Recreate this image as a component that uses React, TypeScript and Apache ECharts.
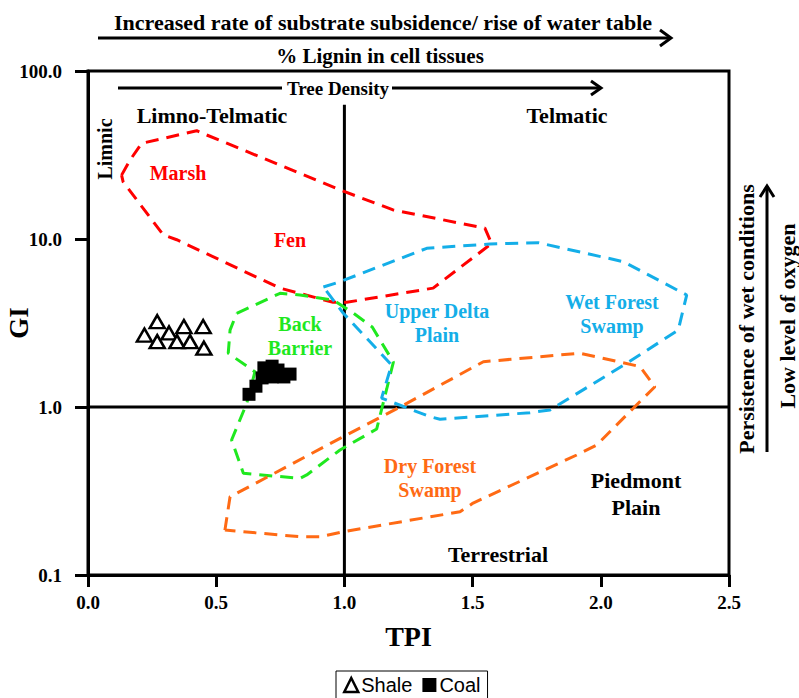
import React, { useEffect, useRef } from "react";
import * as echarts from "echarts";

// Axis ticks
const xTickValues = [0, 0.5, 1.0, 1.5, 2.0, 2.5];
const yTickValues = [0.1, 1, 10, 100];

// Samples
const shaleTPI = [0.22, 0.27, 0.27, 0.316, 0.374, 0.347, 0.398, 0.449, 0.452];
const shaleGI = [2.68, 3.22, 2.45, 2.76, 3.01, 2.45, 2.45, 3.01, 2.24];

const coalTPI = [0.628, 0.655, 0.679, 0.686, 0.718, 0.741, 0.718, 0.764, 0.788];
const coalGI = [1.19, 1.33, 1.49, 1.71, 1.75, 1.66, 1.51, 1.51, 1.57];

// Facies envelopes (closed outlines)
const marshFenTPI = [0.131, 0.164, 0.209, 0.424, 0.463, 0.983, 1.19, 1.548, 1.574, 1.346, 1.009, 0.956, 0.749, 0.346, 0.293, 0.137, 0.131];
const marshFenGI = [24.0, 29.5, 37.1, 44.1, 41.6, 19.6, 14.9, 11.6, 9.4, 5.1, 4.2, 4.2, 5.1, 9.9, 10.6, 21.9, 24.0];

const backBarrierTPI = [0.58, 0.749, 0.827, 0.956, 1.034, 1.108, 1.191, 1.165, 1.126, 0.983, 0.853, 0.827, 0.606, 0.56, 0.619, 0.651, 0.547, 0.554, 0.58];
const backBarrierGI = [3.61, 4.75, 4.64, 4.33, 3.63, 3.0, 1.85, 1.28, 0.74, 0.555, 0.394, 0.376, 0.403, 0.636, 1.05, 1.62, 2.09, 2.87, 3.61];

const wetForestTPI = [0.918, 0.983, 1.321, 1.568, 1.756, 2.088, 2.335, 2.302, 2.101, 1.802, 1.724, 1.373, 1.334, 1.145, 1.184, 0.996, 0.918];
const wetForestGI = [5.18, 5.57, 8.8, 9.34, 9.51, 7.33, 4.64, 2.87, 1.82, 0.96, 0.925, 0.845, 0.875, 1.13, 1.78, 3.61, 5.18];

const dryForestTPI = [0.534, 0.554, 0.702, 0.983, 1.217, 1.542, 1.919, 2.153, 2.211, 2.14, 1.984, 1.906, 1.502, 1.451, 0.995, 0.905, 0.827, 0.534];
const dryForestGI = [0.185, 0.292, 0.385, 0.651, 1.0, 1.86, 2.09, 1.74, 1.32, 1.03, 0.594, 0.518, 0.268, 0.238, 0.181, 0.169, 0.169, 0.185];

// Reference dividers
const dividerVTPI = [1.0, 1.0];
const dividerVGI = [0.1, 63];
const dividerHTPI = [0, 2.5];
const dividerHGI = [1, 1];

const zip = (a: number[], b: number[]) => a.map((v, i) => [v, b[i]]);

const SERIF = "'Liberation Serif', 'Times New Roman', serif";

const RED = "#ff0000";
const GREEN = "#1fe81f";
const BLUE = "#14aee8";
const ORANGE = "#ff6a14";

function txt(text: string, x: number, y: number, size: number, color = "#000", extra: any = {}) {
  return {
    type: "text",
    x,
    y,
    silent: true,
    ...extra,
    style: {
      text,
      fill: color,
      fontFamily: SERIF,
      fontWeight: "bold",
      fontSize: size,
      align: "center",
      verticalAlign: "middle",
      lineHeight: size * 1.2,
      ...(extra.style || {}),
    },
  };
}

function arrowLine(x1: number, y1: number, x2: number, y2: number) {
  return { type: "line", silent: true, shape: { x1, y1, x2, y2 }, style: { stroke: "#000", lineWidth: 3 } };
}
function chevron(points: number[][]) {
  return { type: "polyline", silent: true, shape: { points }, style: { stroke: "#000", lineWidth: 3, fill: null } };
}

function envelope(name: string, xs: number[], ys: number[], color: string) {
  return {
    name,
    type: "line",
    data: zip(xs, ys),
    symbol: "none",
    silent: true,
    z: 2,
    lineStyle: { color, width: 3, type: [13, 8] },
  };
}

export default function App() {
  const ref = useRef<HTMLDivElement>(null);
  useEffect(() => {
    document.body.style.margin = "0";
    const chart = echarts.init(ref.current!, undefined, { renderer: "svg" });
    chart.setOption({
      animation: false,
      backgroundColor: "#fff",
      grid: {
        left: 88,
        right: 70,
        top: 71,
        bottom: 123,
        show: true,
        borderColor: "#000",
        borderWidth: 3,
        containLabel: false,
        outerBoundsMode: "none",
      },
      xAxis: {
        type: "value",
        min: xTickValues[0],
        max: xTickValues[xTickValues.length - 1],
        interval: 0.5,
        name: "TPI",
        nameLocation: "middle",
        nameGap: 47,
        nameTextStyle: { fontFamily: SERIF, fontWeight: "bold", fontSize: 28, color: "#000" },
        axisLine: { onZero: false, lineStyle: { color: "#000", width: 3 } },
        axisTick: { show: true, length: 12, lineStyle: { color: "#000", width: 3 } },
        axisLabel: {
          margin: 18,
          fontFamily: SERIF,
          fontWeight: "bold",
          fontSize: 19,
          color: "#000",
          formatter: (v: number) => Number(v).toFixed(1),
        },
        splitLine: { show: false },
      },
      yAxis: {
        type: "log",
        logBase: 10,
        min: yTickValues[0],
        max: yTickValues[yTickValues.length - 1],
        name: "GI",
        nameLocation: "middle",
        nameGap: 56,
        nameRotate: 90,
        nameMoveOverlap: false,
        nameTextStyle: { fontFamily: SERIF, fontWeight: "bold", fontSize: 27, color: "#000" },
        axisLine: { lineStyle: { color: "#000", width: 3 } },
        axisTick: { show: true, length: 13, lineStyle: { color: "#000", width: 3 } },
        minorTick: { show: false },
        axisLabel: {
          margin: 26,
          fontFamily: SERIF,
          fontWeight: "bold",
          fontSize: 19,
          color: "#000",
          formatter: (v: number) => Number(v).toFixed(1),
        },
        splitLine: { show: false },
      },
      legend: {
        left: 336,
        top: 671,
        orient: "horizontal",
        borderColor: "#000",
        borderWidth: 1,
        padding: [4, 7, 8, 7],
        itemGap: 10,
        itemWidth: 14,
        itemHeight: 14,
        textStyle: { fontFamily: "'Liberation Sans', Arial, sans-serif", fontSize: 20, color: "#000", padding: [0, 0, 0, -2] },
        data: [
          { name: "Shale", icon: "triangle", itemStyle: { color: "#fff", borderColor: "#000", borderWidth: 2.5, opacity: 1 } },
          { name: "Coal", icon: "rect", itemStyle: { color: "#000", opacity: 1 } },
        ],
      },
      series: [
        {
          name: "divV",
          type: "line",
          data: zip(dividerVTPI, dividerVGI),
          symbol: "none",
          silent: true,
          z: 1,
          lineStyle: { color: "#000", width: 3 },
        },
        {
          name: "divH",
          type: "line",
          data: zip(dividerHTPI, dividerHGI),
          symbol: "none",
          silent: true,
          z: 1,
          lineStyle: { color: "#000", width: 3 },
        },
        envelope("Marsh/Fen", marshFenTPI, marshFenGI, RED),
        envelope("Back Barrier", backBarrierTPI, backBarrierGI, GREEN),
        envelope("Wet Forest", wetForestTPI, wetForestGI, BLUE),
        envelope("Dry Forest", dryForestTPI, dryForestGI, ORANGE),
        {
          name: "Shale",
          type: "scatter",
          data: zip(shaleTPI, shaleGI),
          symbol: "triangle",
          symbolSize: [15, 13],
          z: 5,
          itemStyle: { color: "#fff", borderColor: "#000", borderWidth: 2.5, opacity: 1 },
        },
        {
          name: "Coal",
          type: "scatter",
          data: zip(coalTPI, coalGI),
          symbol: "rect",
          symbolSize: 13,
          z: 5,
          itemStyle: { color: "#000", opacity: 1 },
        },
      ],
      graphic: [
        txt("Increased rate of substrate subsidence/ rise of water table", 383, 22, 22),
        arrowLine(98, 38, 671, 38),
        chevron([[660, 30], [671, 38], [660, 46]]),
        txt("% Lignin in cell tissues", 380, 56, 21),
        txt("Tree Density", 338, 88, 19),
        arrowLine(118, 88, 282, 88),
        arrowLine(392, 88, 601, 88),
        chevron([[591, 81], [601, 88], [591, 95]]),
        txt("Limno-Telmatic", 212, 115, 22),
        txt("Telmatic", 567, 115, 22),
        txt("Limnic", 105, 149, 20, "#000", { rotation: Math.PI / 2 }),
        txt("Marsh", 178, 173, 20, RED),
        txt("Fen", 290, 240, 20, RED),
        txt("Back\nBarrier", 300, 336, 20, GREEN),
        txt("Upper Delta\nPlain", 437, 323, 20, BLUE),
        txt("Wet Forest\nSwamp", 612, 314, 20, BLUE),
        txt("Dry Forest\nSwamp", 430, 478, 20, ORANGE),
        txt("Piedmont\nPlain", 636, 494, 22),
        txt("Terrestrial", 498, 554, 22),
        txt("Persistence of wet conditions", 746, 319, 22, "#000", { rotation: Math.PI / 2 }),
        txt("Low level of oxygen", 787, 316, 22, "#000", { rotation: Math.PI / 2 }),
        arrowLine(767, 452, 767, 186),
        chevron([[760, 197], [767, 186], [774, 197]]),
      ],
    });
    return () => chart.dispose();
  }, []);
  return <div ref={ref} style={{ width: 799, height: 698 }} />;
}
